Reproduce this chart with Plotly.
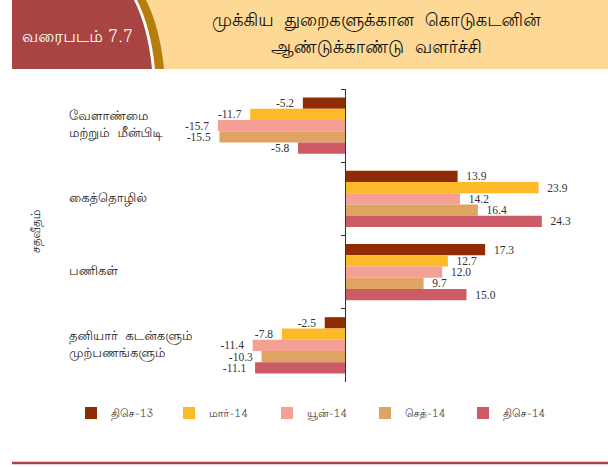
import plotly.graph_objects as go

categories = ["வேளாண்மை<br>மற்றும்  மீன்பிடி", "கைத்தொழில்", "பணிகள்", "தனியார்  கடன்களும்<br>முற்பணங்களும்"]
series_names = ["திசெ-13", "மார்-14", "யூன்-14", "செத்-14", "திசெ-14"]
dec13 = [-5.2, 13.9, 17.3, -2.5]
mar14 = [-11.7, 23.9, 12.7, -7.8]
jun14 = [-15.7, 14.2, 12.0, -11.4]
sep14 = [-15.5, 16.4, 9.7, -10.3]
dec14 = [-5.8, 24.3, 15.0, -11.1]
series_values = [dec13, mar14, jun14, sep14, dec14]
colors = ["#8F2C06", "#FCB928", "#F4A095", "#E0A462", "#CD5B66"]

W, H = 608, 467
T, B = 89, 85
PH = H - T - B

def px(x):
    return x / W

def py(y):
    return (H - B - y) / PH

TAMIL = "Lohit Tamil, Noto Sans Tamil, Latha, Noto Sans, sans-serif"
SERIF = "Liberation Serif, Times New Roman, serif"
NB = "\u00a0"

fig = go.Figure()
for name, vals, col in zip(series_names, series_values, colors):
    labels = [(NB * 2 + f"{v:.1f}") if v >= 0 else (f"{v:.1f}" + NB * 2) for v in vals]
    fig.add_trace(go.Bar(
        y=categories, x=vals, name=name, orientation="h",
        marker=dict(color=col, line=dict(width=0)),
        text=labels, textposition="outside", cliponaxis=False, constraintext="none",
        textfont=dict(family=SERIF, size=11.5, color="#333333"),
        hoverinfo="skip",
    ))

scale = 8.1
zero_px = 345
xr = [-zero_px / scale, (W - zero_px) / scale]

shapes = []
# header band
shapes.append(dict(type="rect", xref="paper", yref="paper", x0=px(12), x1=px(608), y0=py(69), y1=py(0),
                   fillcolor="#FDD995", line=dict(width=0), layer="below"))

def region(xt, xb, cx, cy):
    return (f"M {px(12)} {py(0)} L {px(xt)} {py(0)} Q {px(cx)} {py(cy)} {px(xb)} {py(69)} "
            f"L {px(12)} {py(69)} Z")

shapes.append(dict(type="path", xref="paper", yref="paper", path=region(146, 164, 160, 28),
                   fillcolor="#B67D0C", line=dict(width=0), layer="below"))
shapes.append(dict(type="path", xref="paper", yref="paper", path=region(137, 155, 151, 28),
                   fillcolor="#FFFFFF", line=dict(width=0), layer="below"))
shapes.append(dict(type="path", xref="paper", yref="paper", path=region(134, 152, 148, 28),
                   fillcolor="#A84542", line=dict(width=0), layer="below"))
# bottom rule
shapes.append(dict(type="line", xref="paper", yref="paper", x0=px(12), x1=px(608), y0=py(463), y1=py(463),
                   line=dict(color="#A84542", width=2.5)))

annotations = [
    dict(text="வரைபடம் 7.7", x=px(77), y=py(38), xref="paper", yref="paper", showarrow=False,
         font=dict(family=TAMIL, size=17, color="white"), xanchor="center", yanchor="middle"),
    dict(text="முக்கிய  துறைகளுக்கான  கொடுகடனின்", x=px(376), y=py(22), xref="paper", yref="paper",
         showarrow=False, font=dict(family=TAMIL, size=18, color="#111111"), xanchor="center", yanchor="middle"),
    dict(text="ஆண்டுக்காண்டு  வளர்ச்சி", x=px(376), y=py(49), xref="paper", yref="paper",
         showarrow=False, font=dict(family=TAMIL, size=18, color="#111111"), xanchor="center", yanchor="middle"),
    dict(text="சதவீதம்", x=px(37), y=py(232), xref="paper", yref="paper", showarrow=False, textangle=-90,
         font=dict(family=TAMIL, size=12, color="#222222"), xanchor="center", yanchor="middle"),
]
for c in categories:
    annotations.append(dict(text=c, x=px(67), y=c, xref="paper", yref="y", showarrow=False,
                            xanchor="left", yanchor="middle", align="left",
                            font=dict(family=TAMIL, size=13, color="#222222")))

fig.update_layout(
    width=W, height=H,
    margin=dict(l=0, r=0, t=T, b=B, pad=0, autoexpand=False),
    paper_bgcolor="white", plot_bgcolor="white",
    barmode="group", bargap=0.23, bargroupgap=0,
    showlegend=True,
    legend=dict(orientation="h", x=px(71), y=py(413), xanchor="left", yanchor="middle",
                entrywidth=53, entrywidthmode="pixels", traceorder="normal",
                font=dict(family=TAMIL, size=11, color="#333333"), itemclick=False),
    xaxis=dict(range=xr, visible=False, showgrid=False, zeroline=False, fixedrange=True),
    yaxis=dict(autorange="reversed", anchor="free", position=zero_px / W, showline=True,
               linecolor="#333333", linewidth=1.2, ticks="outside", ticklen=4, tickcolor="#333333",
               tickson="boundaries", showticklabels=False, showgrid=False, zeroline=False, fixedrange=True),
    shapes=shapes, annotations=annotations,
    font=dict(family=TAMIL),
)

fig.write_html("out.html", config={"displayModeBar": False, "staticPlot": True},
               post_script="document.body.style.margin='0px';document.body.style.overflow='hidden';")
